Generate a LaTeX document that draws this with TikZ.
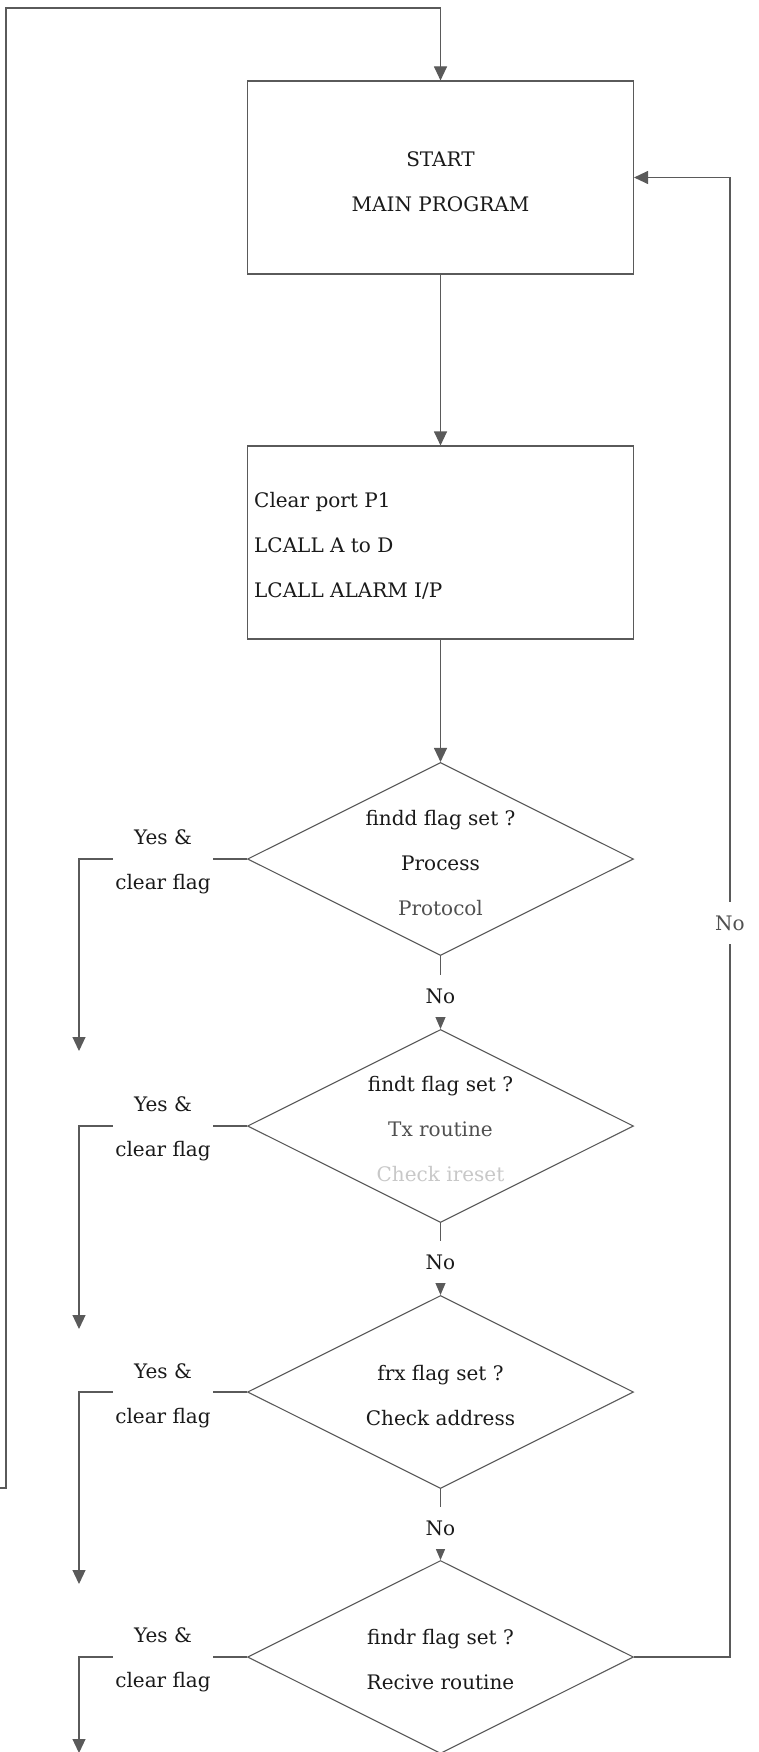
\documentclass[tikz,border=0pt]{standalone}
\usepackage{fontspec}
\setmainfont{DejaVu Serif}
\usetikzlibrary{shapes.geometric,arrows.meta}
\definecolor{linec}{HTML}{5A5A5A}
\definecolor{textc}{HTML}{1A1A1A}
\definecolor{softc}{HTML}{505050}
\definecolor{fadec}{HTML}{C8C8C8}
\tikzset{
  flow/.style={draw=linec, line width=1.1pt},
  bigarrow/.style={-{Triangle[length=14pt,width=13pt]}},
  smallarrow/.style={-{Triangle[length=12pt,width=10pt]}},
  procbox/.style={draw=linec, line width=1.1pt, minimum width=386pt, minimum height=193pt, inner sep=0pt},
  decision/.style={draw=linec, line width=1.1pt, diamond, minimum width=386pt, minimum height=193pt, inner sep=0pt},
  txt/.style={text=textc, font=\fontsize{20}{45}\selectfont, align=center, inner sep=0pt},
  yeslbl/.style={txt, fill=white, inner xsep=2pt, inner ysep=2pt},
  nolbl/.style={txt, fill=white, inner xsep=4pt, inner ysep=14pt},
}
\begin{document}
\begin{tikzpicture}[x=1pt,y=-1pt]
\useasboundingbox (0,0) rectangle (759,1752);
\fill[white] (0,0) rectangle (759,1752);

% boxes and decisions
\node[procbox] (start) at (440.5,177.5) {};
\node[procbox] (clear) at (440.5,542.5) {};
\node[decision] (d1) at (440.5,859) {};
\node[decision] (d2) at (440.5,1126) {};
\node[decision] (d3) at (440.5,1392) {};
\node[decision] (d4) at (440.5,1657) {};

% free ends
\coordinate (lb) at (0,1488);
\coordinate (lc) at (6,1488);
\coordinate (lt) at (6,8);
\coordinate (rb) at (730,1657);
\coordinate (y1) at (79,1051);
\coordinate (y2) at (79,1329);
\coordinate (y3) at (79,1584);
\coordinate (y4) at (79,1753);

% connectors
\draw[flow,bigarrow] (lb) -- (lc) -- (lt) -| (start.north);
\draw[flow,bigarrow] (start.south) -- (clear.north);
\draw[flow,bigarrow] (clear.south) -- (d1.north);
\draw[flow,smallarrow] (d1.south) -- (d2.north);
\draw[flow,smallarrow] (d2.south) -- (d3.north);
\draw[flow,smallarrow] (d3.south) -- (d4.north);
\draw[flow,bigarrow] (d4.east) -- (rb) |- (start.east);
\draw[flow,bigarrow] (d1.west) -| (y1);
\draw[flow,bigarrow] (d2.west) -| (y2);
\draw[flow,bigarrow] (d3.west) -| (y3);
\draw[flow,bigarrow] (d4.west) -| (y4);

% texts
\node[txt] (starttext) at (440.5,182) {START\\MAIN PROGRAM};
\node[txt, anchor=west, align=left] (cleartext) at (254,546) {Clear port P1\\LCALL A to D\\LCALL ALARM I/P};
\node[txt] (t1) at (440.5,863) {findd flag set ?\\Process\\\textcolor{softc}{Protocol}};
\node[txt] (t2) at (440.5,1129) {findt flag set ?\\\textcolor{softc}{Tx routine}\\\textcolor{fadec}{Check ireset}};
\node[txt] (t3) at (440.5,1396) {frx flag set ?\\Check address};
\node[txt] (t4) at (440.5,1660) {findr flag set ?\\Recive routine};

\node[yeslbl] (yes1) at (163,862) {Yes \&\\clear flag};
\node[yeslbl] (yes2) at (163,1129) {Yes \&\\clear flag};
\node[yeslbl] (yes3) at (163,1396) {Yes \&\\clear flag};
\node[yeslbl] (yes4) at (163,1660) {Yes \&\\clear flag};

\node[nolbl] (no1) at (440.5,996) {No};
\node[nolbl] (no2) at (440.5,1262) {No};
\node[nolbl] (no3) at (440.5,1528) {No};
\node[nolbl, text=softc] (no4) at (730,923) {No};
\end{tikzpicture}
\end{document}
